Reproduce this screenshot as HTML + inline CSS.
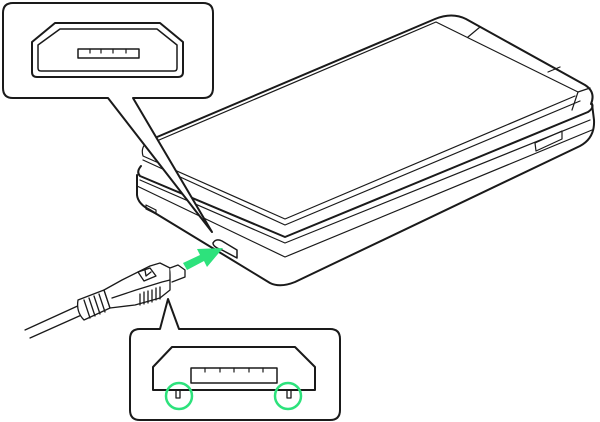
<!DOCTYPE html>
<html><head><meta charset="utf-8"><style>html,body{margin:0;padding:0;background:#fff}svg{display:block}</style></head>
<body>
<svg width="600" height="422" viewBox="0 0 600 422" xmlns="http://www.w3.org/2000/svg" fill="none" stroke="#1a1a1a" stroke-linejoin="round" stroke-linecap="round">
<!-- phone body -->
<g stroke-width="1.2">
<path d="M150,140 L435,19 Q452,12 466,19 L585,85 Q596,92 591,104" stroke-width="2"/>
<path d="M152,143 L436,22 L578,92 L572,110"/>
<path d="M468,37 L480,27 M548,72 L560,67 M578,92 L590,88"/>
<path d="M150,140 Q140,146 143,156 L285,219 L575,96"/>
<path d="M143,160 L285,225 L580,101"/>
<path d="M141,166 Q136,172 140,176 L285,237 L588,112 Q594,108 592,104" stroke-width="2"/>
<path d="M140,180 L285,243 L590,120"/>
<path d="M137,186 L285,257 L592,130"/>
<path d="M137,175 L137,195 Q138,204 150,210 L270,283 Q280,288 295,282 L580,146 Q595,138 594,120 L592,104" stroke-width="2"/>
<path d="M535,143 L562,131 L562,139 L536,151 Z"/>
<path d="M146,205 L156,210 L156,214 L146,209 Z"/>
<path d="M213,243 Q216,238 222,241 L237,250 L237,258 L222,250 Q213,247 213,243 Z" stroke-width="1.5"/>
</g>
<!-- green arrow -->
<polygon points="183,263 200,255 197,249 223,248 207,267 204,261 187,270" fill="#2de27c" stroke="none"/>
<!-- top callout -->
<path d="M13,3 H203 Q213,3 213,13 V88 Q213,98 203,98 H133 L212,232 L108,98 H13 Q3,98 3,88 V13 Q3,3 13,3 Z" fill="#fff" stroke-width="2"/>
<path d="M55,23 H160 L183,42 V72 Q183,77 178,77 H37 Q32,77 32,72 V42 Z" stroke-width="2"/>
<path d="M60,29 H157 L177,45 V68 Q177,71 174,71 H41 Q38,71 38,68 V45 Z" stroke-width="1.5"/>
<rect x="78" y="49" width="61" height="9" stroke-width="1.5"/>
<path d="M90,49 V53 M101,49 V53 M113,49 V53 M126,49 V53" stroke-width="1.2"/>
<!-- cable -->
<g stroke-width="1.3" fill="#fff">
<path d="M25,330 L82,304 M30,338 L86,313" fill="none"/>
<path d="M78,300 L104,290 L110,308 L84,320 Q76,312 78,300 Z"/>
<path d="M84,300 L90,318 M89,298 L95,316 M94,296 L100,314 M99,294 L105,312" fill="none"/>
<path d="M104,290 L122,280 L150,266 L160,263 L170,268 L170,290 L160,298 L135,305 L110,308 Z"/>
<path d="M112,298 L136,290 L162,282 L170,280" fill="none"/>
<path d="M138,272 L150,268 L156,276 L144,281 Z M145,270 L146,276 L151,272" fill="none"/>
<path d="M140,294 V305 M144,292 V304 M148,291 V303 M152,290 V302 M156,288 V300 M160,287 V299" fill="none"/>
<path d="M170,268 L178,265 L185,270 L185,277 L172,282"/>
</g>
<!-- bottom callout -->
<path d="M140,329 H160 L168,299 L179,329 H330 Q340,329 340,339 V410 Q340,420 330,420 H140 Q130,420 130,410 V339 Q130,329 140,329 Z" fill="#fff" stroke-width="2"/>
<path d="M172,347 H295 L315,367 V390 H153 V367 Z" stroke-width="2"/>
<rect x="191" y="368" width="86" height="15" stroke-width="1.5"/>
<path d="M205,368 V372 M220,368 V372 M234,368 V372 M249,368 V372 M263,368 V372" stroke-width="1.2"/>
<rect x="176" y="390" width="4" height="8" stroke-width="1.3"/>
<rect x="287" y="390" width="4" height="8" stroke-width="1.3"/>
<circle cx="179" cy="396" r="13" stroke="#2de27c" stroke-width="2.5"/>
<circle cx="288" cy="396" r="13" stroke="#2de27c" stroke-width="2.5"/>
</svg>
</body></html>
